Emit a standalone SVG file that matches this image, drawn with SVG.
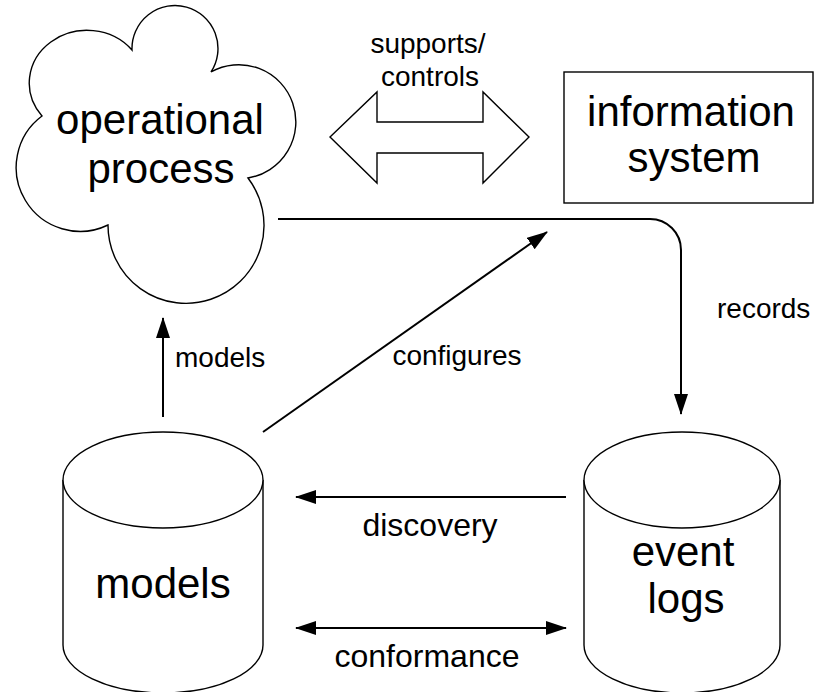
<svg xmlns="http://www.w3.org/2000/svg" width="821" height="692" viewBox="0 0 821 692">
<style>
.shape{fill:#fff;stroke:#000;stroke-width:1.4}
.conn{fill:none;stroke:#000;stroke-width:2}
.big{font-family:"Liberation Sans",Arial,sans-serif;font-size:42px;fill:#000;text-anchor:middle}
.lbl{font-family:"Liberation Sans",Arial,sans-serif;font-size:28px;fill:#000}
.lbl2{font-family:"Liberation Sans",Arial,sans-serif;font-size:32px;fill:#000;text-anchor:middle}
</style>
<defs>
<marker id="ah" markerUnits="userSpaceOnUse" markerWidth="21" markerHeight="14" refX="20" refY="7" orient="auto-start-reverse">
<path d="M0,0 L21,7 L0,14 Z" fill="#000"/>
</marker>
</defs>
<rect width="821" height="692" fill="#fff"/>
<g id="operational-process">
<path class="shape" d="M42,116 A57,52 0 1 1 132,50 A43,43 0 1 1 211,72 A57,57 0 1 1 248,178 A78,78 0 1 1 108,225 A64,64 0 0 1 42,116 Z"/>
<text class="big" x="160" y="134">operational</text>
<text class="big" x="161" y="183">process</text>
</g>
<g id="information-system">
<rect class="shape" x="564" y="72" width="249" height="131"/>
<text class="big" x="691" y="126">information</text>
<text class="big" x="694" y="172">system</text>
</g>
<g id="models">
<path class="shape" d="M63,480 L63,645 A100,48 0 0 0 263,645 L263,480"/>
<ellipse class="shape" cx="163" cy="480" rx="100" ry="48"/>
<text class="big" x="163" y="598">models</text>
</g>
<g id="event-logs">
<path class="shape" d="M584,480 L584,645 A98,48 0 0 0 780,645 L780,480"/>
<ellipse class="shape" cx="682" cy="480" rx="98" ry="48"/>
<text class="big" x="683" y="566">event</text>
<text class="big" x="686" y="613">logs</text>
</g>
<g id="connectors">
<polygon class="shape" points="330,137 377,92 377,122 483,122 483,92 529,137 483,183 483,153 377,153 377,183"/>
<path class="conn" d="M278,219 H650 A31,31 0 0 1 681,250 V414" marker-end="url(#ah)"/>
<path class="conn" d="M163,417 V318" marker-end="url(#ah)"/>
<path class="conn" d="M263,432 L547,232" marker-end="url(#ah)"/>
<path class="conn" d="M566,497 H296" marker-end="url(#ah)"/>
<path class="conn" d="M296,628 H566" marker-start="url(#ah)" marker-end="url(#ah)"/>
</g>
<g id="labels">
<text class="lbl" x="428" y="53" text-anchor="middle">supports/</text>
<text class="lbl" x="430" y="86" text-anchor="middle">controls</text>
<text class="lbl" x="717" y="318">records</text>
<text class="lbl" x="457" y="365" text-anchor="middle">configures</text>
<text class="lbl" x="175" y="367">models</text>
<text class="lbl2" x="430" y="536">discovery</text>
<text class="lbl2" x="427" y="667">conformance</text>
</g>
</svg>
